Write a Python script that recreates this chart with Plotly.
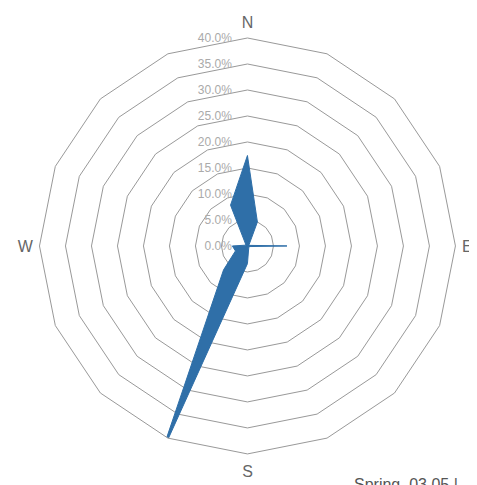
import plotly.graph_objects as go

directions = ["N", "NNE", "NE", "ENE", "E", "ESE", "SE", "SSE",
              "S", "SSW", "SW", "WSW", "W", "WNW", "NW", "NNW"]
frequency = [17.4, 5.0, 0.5, 0.3, 7.6, 0.3, 0.4, 0.6,
             3.4, 43.6, 6.5, 2.5, 2.9, 0.4, 0.5, 8.5]
compass_labels = ["N", "", "", "", "E", "", "", "",
                  "S", "", "", "", "W", "", "", ""]
caption = "Spring, 03.05 |"

fig = go.Figure()
fig.add_trace(go.Scatterpolar(
    r=frequency + frequency[:1],
    theta=directions + directions[:1],
    mode="lines",
    fill="toself",
    fillcolor="#2f6fa8",
    line=dict(color="#2f6fa8", width=1),
    cliponaxis=False,
    showlegend=False,
))

fig.update_layout(
    width=477, height=485,
    margin=dict(l=0, r=0, t=0, b=0),
    paper_bgcolor="white",
    font=dict(family="Liberation Sans, Arial, sans-serif"),
    polar=dict(
        domain=dict(x=[0.066, 0.938], y=[0.0805, 0.9382]),
        bgcolor="white",
        gridshape="linear",
        angularaxis=dict(
            type="category",
            categoryarray=directions,
            direction="clockwise",
            rotation=90,
            tickvals=directions,
            ticktext=compass_labels,
            ticks="outside",
            ticklen=3,
            tickcolor="rgba(0,0,0,0)",
            showgrid=False,
            showline=True,
            linecolor="#999999",
            linewidth=1,
            tickfont=dict(size=16, color="#666666"),
        ),
        radialaxis=dict(
            range=[0, 40],
            dtick=5,
            tickformat=".1f",
            ticksuffix="%\u00a0\u00a0\u00a0\u00a0",
            angle=90,
            tickangle=90,
            side="counterclockwise",
            showline=False,
            ticks="",
            gridcolor="#999999",
            gridwidth=1,
            tickfont=dict(size=12, color="#aaaaaa"),
        ),
    ),
    annotations=[dict(
        text=caption,
        x=344 / 477, y=19 / 485,
        xref="paper", yref="paper",
        xanchor="left", yanchor="top",
        showarrow=False,
        font=dict(size=16, color="#555555"),
    )],
)

fig.write_html("out.html")
